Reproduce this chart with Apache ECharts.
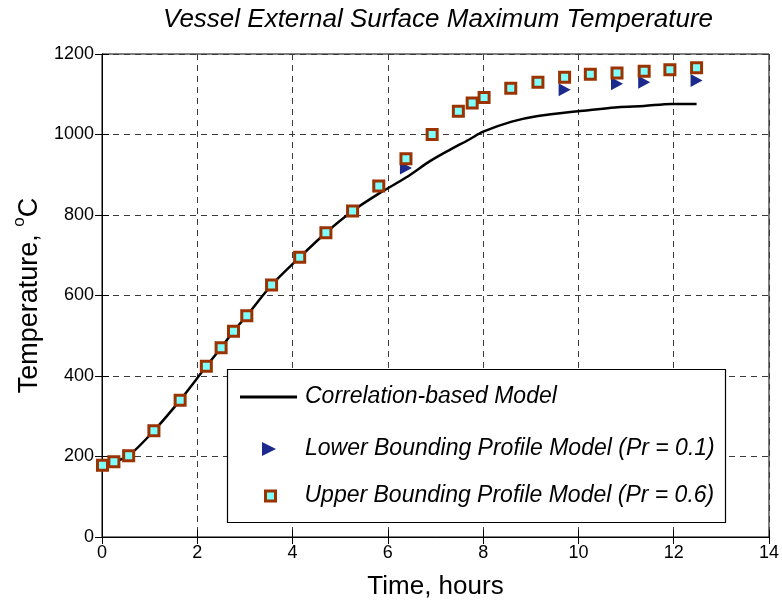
<!DOCTYPE html>
<html>
<head>
<meta charset="utf-8">
<script src="https://cdn.jsdelivr.net/npm/echarts@6/dist/echarts.min.js"></script>
<style>html,body{margin:0;padding:0;background:#fff}#c{width:782px;height:605px}</style>
</head>
<body>
<div id="c"></div>
<script>
// Correlation-based model (line)
const lineTime = [0, 0.25, 0.56, 1.09, 1.64, 2.19, 2.5, 2.76, 3.04, 3.56, 4.15, 4.7, 5.26, 5.81, 6.38, 6.9, 7.3, 7.7, 8.0, 8.6, 9.15, 10.0, 10.83, 11.38, 11.95, 12.48];
const lineTemp = [178, 187, 202, 264, 340, 424, 470, 511, 550, 626, 695, 756, 810, 853, 893, 935, 962, 987, 1007, 1032, 1046, 1058, 1068, 1071, 1076, 1076];
// Lower bounding profile model (Pr = 0.1)
const lowerTime = [0.01, 0.25, 0.56, 1.09, 1.64, 2.19, 2.5, 2.76, 3.04, 3.56, 4.15, 4.7, 5.26, 5.81, 6.38, 9.71, 10.81, 11.38, 12.48];
const lowerTemp = [178, 187, 202, 264, 340, 424, 470, 511, 550, 626, 695, 756, 810, 872, 917, 1111, 1126, 1130, 1134];
// Upper bounding profile model (Pr = 0.6)
const upperTime = [0.01, 0.25, 0.56, 1.09, 1.64, 2.19, 2.5, 2.76, 3.04, 3.56, 4.15, 4.7, 5.26, 5.81, 6.38, 6.93, 7.48, 7.77, 8.02, 8.58, 9.15, 9.71, 10.25, 10.81, 11.38, 11.92, 12.48];
const upperTemp = [178, 187, 202, 264, 340, 424, 470, 511, 550, 626, 695, 756, 810, 872, 940, 1000, 1058, 1078, 1092, 1115, 1130, 1142, 1150, 1153, 1157, 1161, 1166];

const seriesNames = ['Correlation-based Model', 'Lower Bounding Profile Model (Pr = 0.1)', 'Upper Bounding Profile Model (Pr = 0.6)'];
const titleText = 'Vessel External Surface Maximum Temperature';

const zip = (a, b) => a.map((v, i) => [v, b[i]]);
const FONT = '"Liberation Sans", Arial, sans-serif';
const NAVY = '#1B2A8C', CYAN = '#80FFFF', BROWN = '#9A3300';

const chart = echarts.init(document.getElementById('c'), null, {renderer: 'canvas'});
const gridLine = {show: true, lineStyle: {color: '#3a3a3a', type: [6, 5], width: 1}};
const legendText = (padLeft) => ({fontFamily: FONT, fontStyle: 'italic', fontSize: 23, color: '#000', lineHeight: 24, padding: [0, 0, 0, padLeft]});
const legendBase = {orient: 'vertical', padding: 0, itemGap: 0, selectedMode: false, z: 6, symbolRotate: 0};

chart.setOption({
  animation: false,
  backgroundColor: '#fff',
  graphic: [{
    type: 'text', left: 163, top: 7, z: 10,
    style: {text: titleText, font: 'italic 26px ' + FONT, fill: '#000'}
  }, {
    type: 'rect', z: 5, zlevel: 0,
    shape: {x: 227.5, y: 369.5, width: 498, height: 153},
    style: {fill: '#fff', stroke: '#000', lineWidth: 1.2}
  }],
  grid: {left: 102, right: 10, top: 54, bottom: 67, show: true, borderColor: '#000', borderWidth: 1, backgroundColor: 'transparent'},
  legend: [
    Object.assign({}, legendBase, {
      left: 240, top: 385, itemWidth: 57, itemHeight: 3,
      textStyle: legendText(3),
      data: [{name: seriesNames[0], icon: 'rect', itemStyle: {color: '#000'}, lineStyle: {color: '#000', width: 2.5}}]
    }),
    Object.assign({}, legendBase, {
      left: 262, top: 437, itemWidth: 14, itemHeight: 14,
      textStyle: legendText(24),
      data: [{name: seriesNames[1], icon: 'path://M0,0 L12,6 L0,12 Z', itemStyle: {color: NAVY}}]
    }),
    Object.assign({}, legendBase, {
      left: 264, top: 484, itemWidth: 10, itemHeight: 10,
      textStyle: legendText(24),
      data: [{name: seriesNames[2], icon: 'rect', itemStyle: {color: CYAN, borderColor: BROWN, borderWidth: 3}}]
    })
  ],
  xAxis: [{
    type: 'value', min: 0, max: 14, interval: 2,
    name: 'Time, hours', nameLocation: 'middle', nameGap: 37,
    nameTextStyle: {fontFamily: FONT, fontSize: 26, color: '#000'},
    axisLine: {show: true, lineStyle: {color: '#000', width: 1}},
    axisTick: {show: true, inside: true, length: 7, lineStyle: {color: '#000'}},
    axisLabel: {fontFamily: FONT, fontSize: 18, color: '#000', margin: 7, formatter: v => String(v)},
    splitLine: gridLine
  }, {
    type: 'value', min: 0, max: 14, interval: 2, position: 'top',
    axisLine: {show: true, lineStyle: {color: '#000', width: 1}},
    axisTick: {show: true, inside: true, length: 7, lineStyle: {color: '#000'}},
    axisLabel: {show: false}, splitLine: {show: false}
  }],
  yAxis: [{
    type: 'value', min: 0, max: 1200, interval: 200,
    name: '{a|Temperature, }{s|o}{a|C}', nameLocation: 'middle', nameGap: 58,
    nameTextStyle: {fontFamily: FONT, fontSize: 27, color: '#000',
      rich: {a: {fontFamily: FONT, fontSize: 27, color: '#000', lineHeight: 32, verticalAlign: 'bottom'},
             s: {fontFamily: FONT, fontSize: 17, color: '#000', lineHeight: 32, verticalAlign: 'top'}}},
    axisLine: {show: true, lineStyle: {color: '#000', width: 1}},
    axisTick: {show: true, inside: true, length: 7, lineStyle: {color: '#000'}},
    axisLabel: {fontFamily: FONT, fontSize: 18, color: '#000', margin: 8, formatter: v => String(v)},
    splitLine: gridLine
  }, {
    type: 'value', min: 0, max: 1200, interval: 200, position: 'right',
    axisLine: {show: true, lineStyle: {color: '#000', width: 1}},
    axisTick: {show: true, inside: true, length: 7, lineStyle: {color: '#000'}},
    axisLabel: {show: false}, splitLine: {show: false}
  }],
  series: [{
    name: seriesNames[0], type: 'line', smooth: 0.3, showSymbol: false, symbol: 'none',
    data: zip(lineTime, lineTemp),
    lineStyle: {color: '#000', width: 2.5}, itemStyle: {color: '#000'}, z: 2
  }, {
    name: seriesNames[1], type: 'scatter', symbol: 'triangle', symbolSize: [13, 12], symbolRotate: -90,
    data: zip(lowerTime, lowerTemp),
    itemStyle: {color: NAVY, opacity: 1}, z: 3
  }, {
    name: seriesNames[2], type: 'scatter', symbol: 'rect', symbolSize: 10,
    data: zip(upperTime, upperTemp),
    itemStyle: {color: CYAN, borderColor: BROWN, borderWidth: 3, opacity: 1}, z: 4
  }]
});
</script>
</body>
</html>
